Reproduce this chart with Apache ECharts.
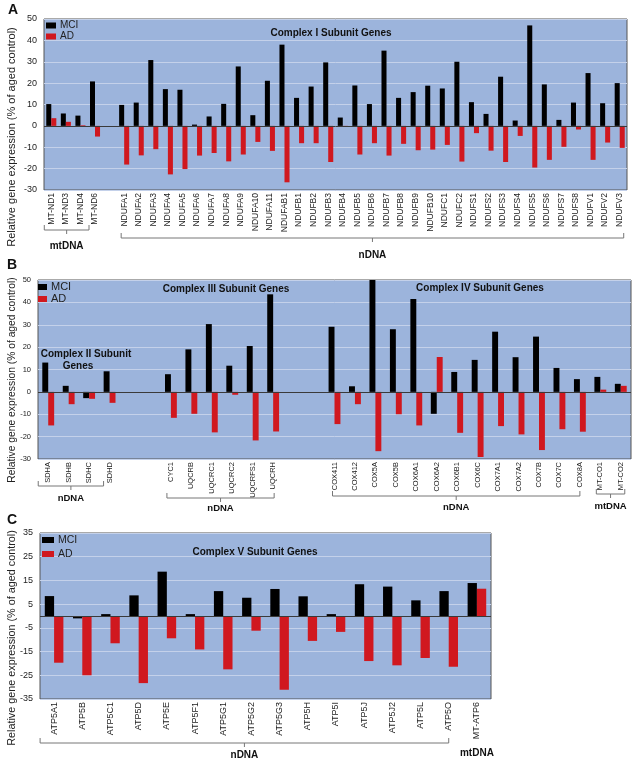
<!DOCTYPE html>
<html><head><meta charset="utf-8">
<script src="https://cdn.jsdelivr.net/npm/echarts@6/dist/echarts.min.js"></script>
<style>html,body{margin:0;padding:0;background:#fff}#c{width:640px;height:762px}</style>
</head><body><div id="c"></div>
<script>
// ---------- DATA ----------
const catsA = ['MT-ND1','MT-ND3','MT-ND4','MT-ND6',' ',
  'NDUFA1','NDUFA2','NDUFA3','NDUFA4','NDUFA5','NDUFA6','NDUFA7','NDUFA8','NDUFA9','NDUFA10','NDUFA11','NDUFAB1',
  'NDUFB1','NDUFB2','NDUFB3','NDUFB4','NDUFB5','NDUFB6','NDUFB7','NDUFB8','NDUFB9','NDUFB10',
  'NDUFC1','NDUFC2','NDUFS1','NDUFS2','NDUFS3','NDUFS4','NDUFS5','NDUFS6','NDUFS7','NDUFS8','NDUFV1','NDUFV2','NDUFV3'];
const mciA = [10.2,5.8,4.8,20.8,'-',
  9.8,10.9,30.8,17.2,16.9,0.6,4.4,10.3,27.8,5.0,21.1,38.0,
  13.1,18.4,29.7,3.9,18.9,10.2,35.2,13.1,15.8,18.8,
  17.5,30.0,11.1,5.6,23.0,2.5,47.0,19.4,2.8,10.9,24.7,10.6,20.0];
const adA = [3.6,1.9,0.3,-5.0,'-',
  -18.1,-13.8,-10.9,-22.7,-20.2,-13.9,-12.7,-16.6,-13.4,-7.5,-11.7,-26.4,
  -8.1,-8.1,-16.9,-0.3,-13.4,-8.1,-13.9,-8.4,-11.4,-11.1,
  -8.9,-16.7,-3.4,-11.6,-16.9,-4.7,-19.5,-15.9,-9.8,-1.7,-15.9,-7.8,-10.3];

const catsB = ['SDHA','SDHB','SDHC','SDHD',' ','  ',
  'CYC1','UQCRB','UQCRC1','UQCRC2','UQCRFS1','UQCRH','   ','    ',
  'COX411','COX412','COX5A','COX5B','COX6A1','COX6A2','COX6B1','COX6C','COX7A1','COX7A2','COX7B','COX7C','COX8A',
  'MT-CO1','MT-CO2'];
const mciB = [13.1,2.7,-2.8,9.2,'-','-',
  7.9,19.0,30.3,11.7,20.5,43.6,'-','-',
  29.1,2.5,50.0,28.0,41.5,-9.8,8.9,14.3,26.9,15.5,24.7,10.7,5.7,
  6.7,3.6];
const adB = [-15.0,-5.5,-3.1,-4.9,'-','-',
  -11.6,-9.8,-18.1,-1.3,-21.7,-17.7,'-','-',
  -14.4,-5.5,-26.5,-10.0,-15.0,15.6,-18.3,-29.1,-15.3,-19.0,-26.0,-16.7,-17.8,
  1.0,2.7];

const catsC = ['ATP5A1','ATP5B','ATP5C1','ATP5D','ATP5E','ATP5F1','ATP5G1','ATP5G2','ATP5G3','ATP5H',
  'ATP5I','ATP5J','ATP5J2','ATP5L','ATP5O','MT-ATP6'];
const mciC = [8.4,-1.0,0.8,8.7,18.7,0.8,10.5,7.7,11.4,8.3,0.8,13.4,12.4,6.6,10.5,13.9];
const adC = [-19.7,-25.0,-11.5,-28.3,-9.4,-14.1,-22.5,-6.2,-31.1,-10.5,-6.7,-19.0,-20.8,-17.7,-21.4,11.5];

const ticksA = {min:-30, max:50, interval:10};
const ticksB = {min:-30, max:50, interval:10};
const ticksC = {min:-35, max:35, interval:10};

const yTitle = 'Relative gene expression (% of aged control)';

// ---------- CHART ----------
const FONT = '"Liberation Sans", Arial, sans-serif';
const BG = '#9cb4dc', GRIDLINE = '#c4d1ea', BLACK = '#000000', RED = '#d0181f';
const chart = echarts.init(document.getElementById('c'), null, {renderer:'canvas'});

function grid(left, right, top, height){
  return {left, right, top, height, show:true, backgroundColor:BG, borderColor:'#555', borderWidth:1, containLabel:false};
}
function yAx(idx, t, fs){
  return {type:'value', gridIndex:idx, min:t.min, max:t.max, interval:t.interval,
    axisLine:{show:false}, axisTick:{show:false},
    axisLabel:{fontSize:fs, color:'#222', fontFamily:FONT, margin:7},
    splitLine:{lineStyle:{color:GRIDLINE, width:1}}};
}
function xAx(idx, data, fs){
  return {type:'category', gridIndex:idx, data, axisLine:{show:false}, axisTick:{show:false},
    axisLabel:{interval:0, rotate:90, fontSize:fs, color:'#222', fontFamily:FONT, margin:3},
    splitLine:{show:false}};
}
function bars(idx, name, data, color, gap){
  const s = {type:'bar', name, xAxisIndex:idx, yAxisIndex:idx, data, barGap:'0%', barCategoryGap:gap,
    itemStyle:{color}, silent:true};
  if (name === 'MCI') {
    s.markLine = {silent:true, symbol:'none', label:{show:false}, animation:false,
      lineStyle:{color:'#3a3a3a', width:1, type:'solid'}, data:[{yAxis:0}]};
  }
  return s;
}
function legend(left, top, iw, ih, fs, lh){
  return {data:['MCI','AD'], orient:'vertical', left, top, icon:'rect', itemWidth:iw, itemHeight:ih,
    itemGap:0, padding:0, selectedMode:false,
    textStyle:{fontSize:fs, color:'#222', fontFamily:FONT, lineHeight:lh, padding:[0,0,0,-1]}};
}

chart.setOption({
  animation:false,
  grid:[grid(44,13,19,171), grid(38,9,280,179), grid(40,149,533,166)],
  xAxis:[xAx(0,catsA,8.5), xAx(1,catsB,7.5), xAx(2,catsC,9)],
  yAxis:[yAx(0,ticksA,9), yAx(1,ticksB,7.5), yAx(2,ticksC,9)],
  legend:[legend(46,20,10,6,10,11), legend(38,281,9,6,11,12), legend(42,533,12,6,10.5,14)],
  series:[
    bars(0,'MCI',mciA,BLACK,'31%'), bars(0,'AD',adA,RED,'31%'),
    bars(1,'MCI',mciB,BLACK,'42%'), bars(1,'AD',adB,RED,'42%'),
    bars(2,'MCI',mciC,BLACK,'34%'), bars(2,'AD',adC,RED,'34%')
  ]
});

// ---------- ANNOTATIONS ----------
const els = [];
function text(x, y, t, font, opts){
  els.push(Object.assign({type:'text', x, y, silent:true,
    style:{text:t, font, fill:'#111', align:'center', verticalAlign:'middle'}}, opts||{}));
}
function px(axis, cats, name){ return chart.convertToPixel({xAxisIndex:axis}, cats.indexOf(name)); }
function bracket(axis, cats, a, b, y, padL, padR, label, ly, fs){
  const x1 = px(axis,cats,a) - padL, x2 = px(axis,cats,b) + padR, xm = (x1+x2)/2;
  els.push({type:'polyline', silent:true, shape:{points:[[x1,y-5],[x1,y],[x2,y],[x2,y-5]]},
    style:{stroke:'#777', lineWidth:1, fill:null}});
  els.push({type:'line', silent:true, shape:{x1:xm,y1:y,x2:xm,y2:y+4}, style:{stroke:'#777', lineWidth:1}});
  if (label) text(xm, ly, label, 'bold '+fs+'px '+FONT);
}
// panel letters
text(13, 10, 'A', 'bold 14px '+FONT);
text(12, 265, 'B', 'bold 14px '+FONT);
text(12, 520, 'C', 'bold 14px '+FONT);
// y titles
text(12, 137, yTitle, '11px '+FONT, {rotation:Math.PI/2, style:{text:yTitle, font:'11px '+FONT, fill:'#222', align:'center', verticalAlign:'middle'}});
text(12, 380, yTitle, '10.3px '+FONT, {rotation:Math.PI/2, style:{text:yTitle, font:'10.3px '+FONT, fill:'#222', align:'center', verticalAlign:'middle'}});
text(12, 638, yTitle, '10.8px '+FONT, {rotation:Math.PI/2, style:{text:yTitle, font:'10.8px '+FONT, fill:'#222', align:'center', verticalAlign:'middle'}});
// panel titles
text(331, 33, 'Complex I Subunit Genes', 'bold 10px '+FONT);
text(226, 289, 'Complex III Subunit Genes', 'bold 10px '+FONT);
text(480, 288, 'Complex IV Subunit Genes', 'bold 10px '+FONT);
text(86, 354, 'Complex II Subunit', 'bold 10px '+FONT);
text(78, 366, 'Genes', 'bold 10px '+FONT);
text(255, 552, 'Complex V Subunit Genes', 'bold 10px '+FONT);
// brackets
bracket(0, catsA, 'MT-ND1', 'MT-ND6', 230, 7, -6, 'mtDNA', 246, 10);
bracket(0, catsA, 'NDUFA1', 'NDUFV3', 238, 3, 4, 'nDNA', 255, 10);
bracket(1, catsB, 'SDHA', 'SDHD', 486, 10, -6, 'nDNA', 498, 9.5);
bracket(1, catsB, 'CYC1', 'UQCRH', 498, 4, 1, 'nDNA', 508, 9.5);
bracket(1, catsB, 'COX411', 'COX8A', 496, 2, 0, 'nDNA', 507, 9.5);
bracket(1, catsB, 'MT-CO1', 'MT-CO2', 494, 4, 4, 'mtDNA', 506, 9.5);
bracket(2, catsC, 'ATP5A1', 'ATP5O', 743, 14, 0, 'nDNA', 755, 10);
text(px(2, catsC, 'MT-ATP6'), 753, 'mtDNA', 'bold 10px '+FONT);

chart.setOption({graphic:{elements:els}});
</script></body></html>
